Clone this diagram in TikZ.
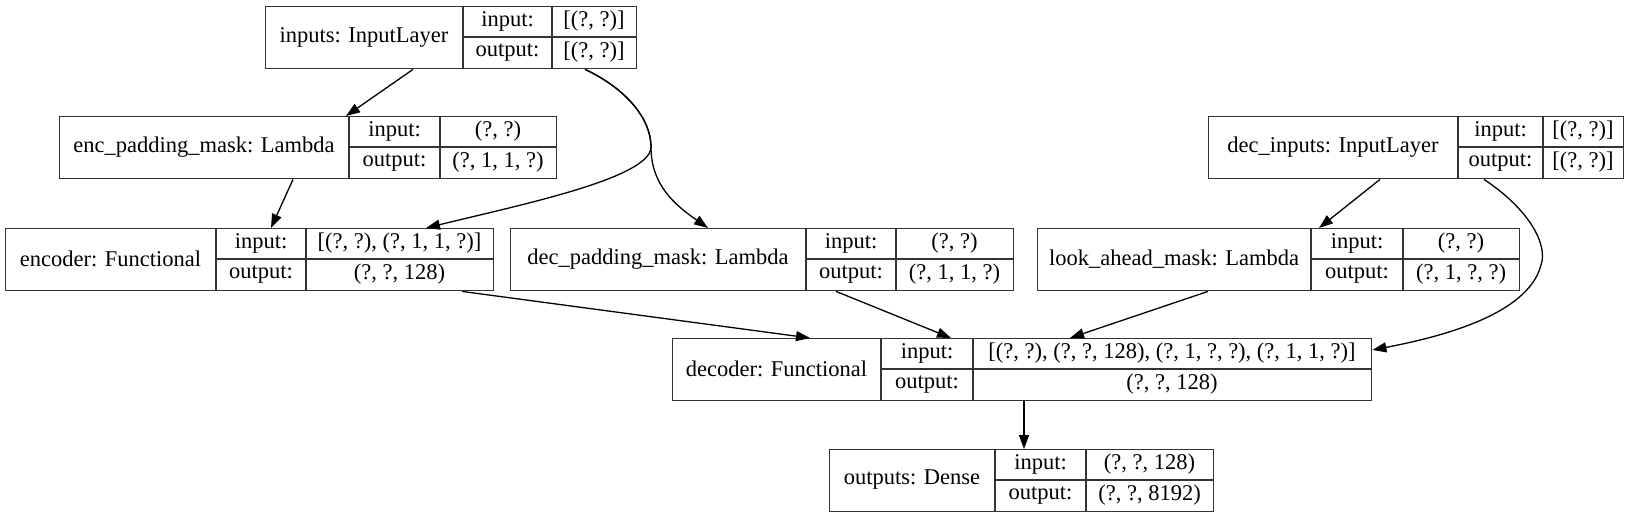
\documentclass[tikz,border=0pt]{standalone}
\usepackage{fontspec}
\setmainfont{Liberation Serif}
\usetikzlibrary{arrows.meta,calc}
\tikzset{
  boxframe/.style={draw=black!80, line width=1.4pt, inner sep=0pt, anchor=north west},
  divline/.style={draw=black!80, line width=1.4pt},
  txt/.style={inner sep=0pt, font=\fontsize{22.5}{27}\selectfont},
  edge/.style={draw=black, line width=1.3pt, -{Triangle[length=14pt,width=10pt]}},
}
% #1 name, #2 x0, #3 x1, #4 x2, #5 x3, #6 y0, #7 title, #8 input value, #9 output value
\newcommand\klayer[9]{%
  \node[boxframe, minimum width={(#5-#2)*1pt}, minimum height=62pt] (#1) at (#2,#6) {};
  \draw[divline] (#3,#6) -- (#3,{#6+62});
  \draw[divline] (#4,#6) -- (#4,{#6+62});
  \draw[divline] (#3,{#6+31}) -- (#5,{#6+31});
  \node[txt] (#1-t) at ({(#2+#3)/2},{#6+31}) {#7};
  \node[txt] (#1-il) at ({(#3+#4)/2},{#6+15.5}) {input:};
  \node[txt] (#1-ol) at ({(#3+#4)/2},{#6+46.5}) {output:};
  \node[txt] (#1-iv) at ({(#4+#5)/2},{#6+15.5}) {#8};
  \node[txt] (#1-ov) at ({(#4+#5)/2},{#6+46.5}) {#9};
}
\begin{document}
\begin{tikzpicture}[x=1pt,y=-1pt]
\useasboundingbox[fill=white] (0,0) rectangle (1629,516);
\klayer{inputs}{265}{463}{552}{636}{6}{inputs: InputLayer}{[(?, ?)]}{[(?, ?)]}
\klayer{encpad}{59}{349}{440}{556}{116}{enc\_padding\_mask: Lambda}{(?, ?)}{(?, 1, 1, ?)}
\klayer{decin}{1208}{1458}{1543}{1623}{116}{dec\_inputs: InputLayer}{[(?, ?)]}{[(?, ?)]}
\klayer{encoder}{5}{216}{306}{493}{228}{encoder: Functional}{[(?, ?), (?, 1, 1, ?)]}{(?, ?, 128)}
\klayer{decpad}{510}{806}{896}{1013}{228}{dec\_padding\_mask: Lambda}{(?, ?)}{(?, 1, 1, ?)}
\klayer{look}{1037}{1311}{1403}{1519}{228}{look\_ahead\_mask: Lambda}{(?, ?)}{(?, 1, ?, ?)}
\klayer{decoder}{672}{881}{973}{1371}{338}{decoder: Functional}{[(?, ?), (?, ?, 128), (?, 1, ?, ?), (?, 1, 1, ?)]}{(?, ?, 128)}
\klayer{outputs}{829}{995}{1086}{1213}{449}{outputs: Dense}{(?, ?, 128)}{(?, ?, 8192)}

\draw[edge] ($(inputs.south west)+(148,0)$) -- ($(encpad.north west)+(287,0)$);
\draw[edge] ($(inputs.south west)+(320,0)$) .. controls (625,88) and (651,118) .. (651,147)
   .. controls (651,178) and (520,205) .. ($(encoder.north west)+(421,0)$);
\draw[edge] ($(inputs.south west)+(320,0)$) .. controls (625,88) and (651,118) .. (651,147)
   .. controls (651,185) and (675,205) .. ($(decpad.north west)+(198,0)$);
\draw[edge] ($(encpad.south west)+(234,0)$) -- ($(encoder.north west)+(266,0)$);
\draw[edge] ($(decin.south west)+(172,0)$) -- ($(look.north west)+(282,0)$);
\draw[edge] ($(decin.south west)+(276,0)$) .. controls (1530,210) and (1548,245) .. (1541,265)
   .. controls (1528,315) and (1440,337) .. ($(decoder.north east)+(0,12)$);
\draw[edge] ($(encoder.south west)+(457,0)$) -- ($(decoder.north west)+(138,0)$);
\draw[edge] ($(decpad.south west)+(326,0)$) -- ($(decoder.north west)+(279,0)$);
\draw[edge] ($(look.south west)+(171,0)$) -- ($(decoder.north west)+(398,0)$);
\draw[edge] ($(decoder.south west)+(352,0)$) -- ($(outputs.north west)+(195,0)$);
\end{tikzpicture}
\end{document}
